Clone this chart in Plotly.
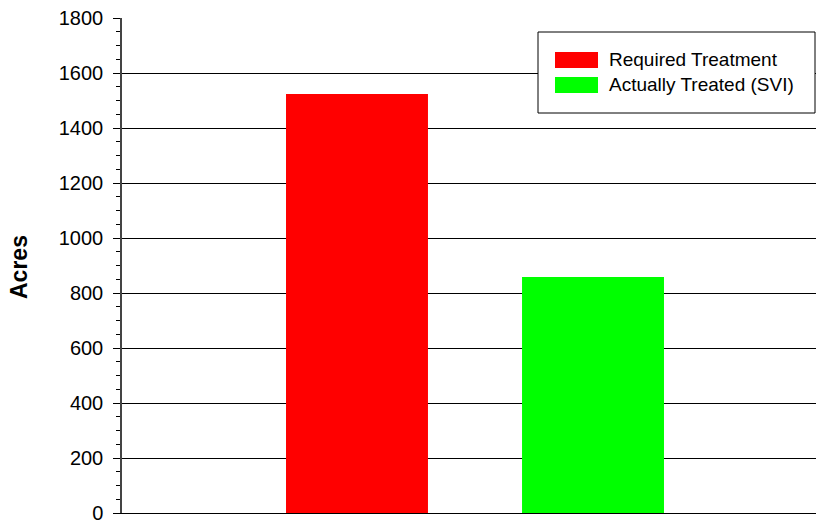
import plotly.graph_objects as go

categories = [""]
series_names = ["Required Treatment", "Actually Treated (SVI)"]
required_values = [1524]
treated_values = [858]
colors = ["#FF0000", "#00FF00"]
y_tick_values = [0, 200, 400, 600, 800, 1000, 1200, 1400, 1600, 1800]
y_title = "Acres"

FONT = "Liberation Sans, Arial, sans-serif"
L, T, W, H = 122, 18, 694, 495

def px_x(x):
    return (x - L) / W

def px_y(y):
    return (T + H - y) / H

fig = go.Figure()
fig.add_trace(go.Bar(x=categories, y=required_values, name=series_names[0],
                     marker=dict(color=colors[0], line=dict(width=0)), showlegend=False))
fig.add_trace(go.Bar(x=categories, y=treated_values, name=series_names[1],
                     marker=dict(color=colors[1], line=dict(width=0)), showlegend=False))

fig.update_layout(
    width=816, height=520,
    margin=dict(l=L, r=0, t=T, b=520 - T - H, autoexpand=False),
    paper_bgcolor="white", plot_bgcolor="white",
    barmode="group", bargap=0.3314, bargroupgap=0.3985,
    font=dict(family=FONT, color="black"),
    xaxis=dict(showticklabels=False, showgrid=False, ticks="", automargin=False,
               showline=True, linecolor="black", linewidth=1, range=[-0.5, 0.483]),
    yaxis=dict(range=[0, 1800], tickvals=y_tick_values, ticktext=[str(v) for v in y_tick_values],
               automargin=False,
               showgrid=True, gridcolor="black", gridwidth=1,
               zeroline=True, zerolinecolor="black", zerolinewidth=1,
               showline=True, linecolor="#444", linewidth=1.5,
               ticks="outside", ticklen=7, tickcolor="black", tickwidth=1,
               ticklabelstandoff=6, ticklabeloverflow="allow",
               minor=dict(dtick=50, ticks="outside", ticklen=4, tickcolor="black", showgrid=False),
               tickfont=dict(size=20, family=FONT)),
)

fig.add_annotation(xref="paper", yref="paper", x=px_x(19), y=px_y(267),
                   text="<b>" + y_title + "</b>", textangle=-90, showarrow=False,
                   xanchor="center", yanchor="middle",
                   font=dict(size=23, family=FONT, color="black"))

# Custom legend box matching the reference's wide swatches
fig.add_shape(type="rect", xref="paper", yref="paper",
              x0=px_x(538), x1=px_x(815), y0=px_y(113), y1=px_y(32),
              line=dict(color="black", width=1), fillcolor="white", layer="above")
for i, (name, col) in enumerate(zip(series_names, colors)):
    ytop = 52 + i * 25
    fig.add_shape(type="rect", xref="paper", yref="paper",
                  x0=px_x(555), x1=px_x(598), y0=px_y(ytop + 16), y1=px_y(ytop),
                  line=dict(width=0), fillcolor=col, layer="above")
    fig.add_annotation(xref="paper", yref="paper",
                       x=px_x(607), y=px_y(ytop + 8),
                       text=name, showarrow=False, xanchor="left", yanchor="middle",
                       font=dict(size=19, family=FONT, color="black"))

fig.write_html("out.html")
